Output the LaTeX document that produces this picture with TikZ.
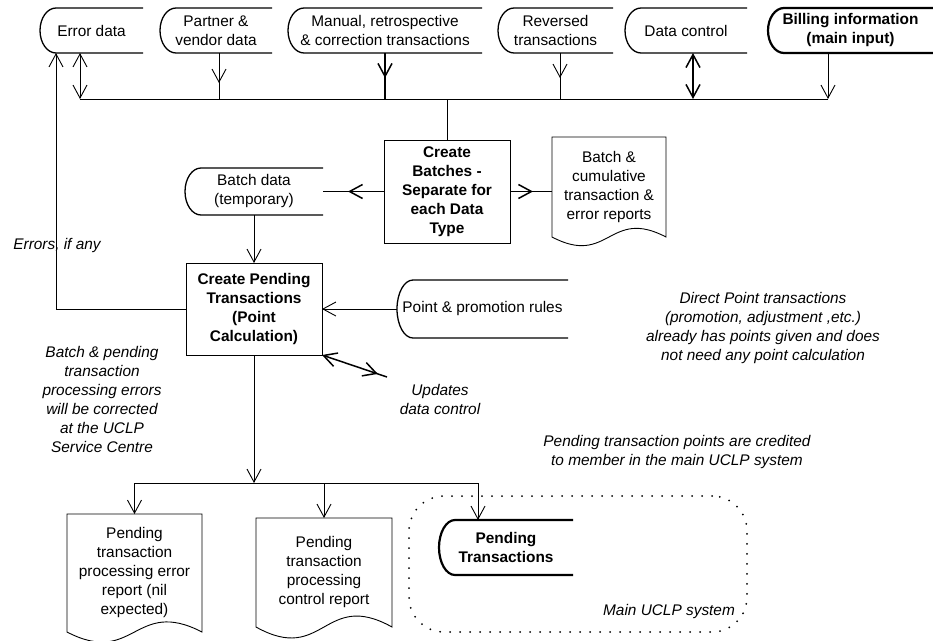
\documentclass[tikz,border=0pt]{standalone}
\usepackage{fontspec}
\setmainfont{Liberation Sans}
\usetikzlibrary{arrows.meta,decorations.markings,calc}
\newcommand\mainfnt{\fontsize{15.4}{19}\selectfont}
\newcommand\sdoutline[2][sdline]{\draw[#1] (#2.north east) -- ([xshift=16pt]#2.north west) .. controls ([xshift=7.16pt]#2.north west) and ($(#2.west)!0.5523!(#2.north west)$) .. (#2.west) .. controls ($(#2.west)!0.5523!(#2.south west)$) and ([xshift=7.16pt]#2.south west) .. ([xshift=16pt]#2.south west) -- (#2.south east);}
\newcommand\docoutline[2]{\draw[docline] (#1.north west) -- (#1.north east) -- (#1.south east) .. controls ([yshift=#2]#1.south) and ([yshift=-#2]#1.south) .. (#1.south west) -- cycle;}
\begin{document}
\begin{tikzpicture}[x=1pt,y=-1pt,
  >={Straight Barb[length=13pt,width=14pt]},
  every node/.style={font=\mainfnt, align=center, inner sep=1pt, outer sep=0pt},
  sdline/.style={line width=1.3pt},
  sdbold/.style={line width=2.2pt},
  sdnode/.style 2 args={minimum width=#1, minimum height=#2},
  procbox/.style={draw, line width=0.9pt, font=\mainfnt\bfseries},
  docline/.style={line width=0.9pt},
  conn/.style={line width=0.9pt},
  connb/.style={line width=1.5pt},
  midarr/.style={postaction={decorate}, decoration={markings, mark=at position #1 with {\arrow{>}}}},
  note/.style={font=\mainfnt\itshape},
]
\useasboundingbox (0,0) rectangle (933,640);

% stored data (top row)
\node[sdnode={103pt}{45pt}] (ed) at (91.5,30.5) {Error data};
\node[sdnode={112pt}{45pt}] (pv) at (216,30.5) {Partner \&\\vendor data};
\node[sdnode={194pt}{45pt}] (mr) at (385,30.5) {Manual, retrospective\\\& correction transactions};
\node[sdnode={115pt}{45pt}] (rt) at (555.5,30.5) {Reversed\\transactions};
\node[sdnode={122pt}{45pt}] (dc) at (686,30.5) {Data control};
\node[sdnode={165pt}{45pt}, font=\mainfnt\bfseries] (bi) at (850.5,30.5) {Billing information\\(main input)};
\sdoutline{ed}\sdoutline{pv}\sdoutline{mr}\sdoutline{rt}\sdoutline{dc}
\sdoutline[sdbold]{bi}

% processes
\node[procbox, minimum width=126pt, minimum height=103pt] (cb) at (447,191.5) {Create\\Batches -\\Separate for\\each Data\\Type};
\node[procbox, minimum width=136pt, minimum height=92pt] (cp) at (254,309) {Create Pending\\Transactions\\(Point\\Calculation)};

% other stored data
\node[sdnode={138pt}{47pt}] (bd) at (254,191.5) {Batch data\\(temporary)};
\node[sdnode={171pt}{58pt}] (pr) at (482.5,309) {Point \& promotion rules};
\sdoutline{bd}\sdoutline{pr}

% documents
\node[minimum width=114pt, minimum height=100pt] (br) at (609,187) {Batch \&\\cumulative\\transaction \&\\error reports};
\node[minimum width=135pt, minimum height=118pt] (r1) at (134.5,573) {Pending\\transaction\\processing error\\report (nil\\expected)};
\node[minimum width=136pt, minimum height=109pt] (r2) at (324,572.5) {Pending\\transaction\\processing\\control report};
\docoutline{br}{30pt}\docoutline{r1}{35pt}\docoutline{r2}{38pt}

% main UCLP system region
\node[draw, line width=2pt, dash pattern=on 0pt off 10pt, line cap=round, rounded corners=35pt, minimum width=338pt, minimum height=136pt] (mu) at (578,564) {};
\node[sdnode={134pt}{55pt}, font=\mainfnt\bfseries] (pt) at (506,547.5) {Pending\\Transactions};
\sdoutline[sdbold]{pt}

% notes
\node[note] (errl) at (57,246) {Errors, if any};
\node[note] (n1) at (102,399.5) {Batch \& pending\\transaction\\processing errors\\will be corrected\\at the UCLP\\Service Centre};
\node[note] (upd) at (440,399.5) {Updates\\data control};
\node[note] (dir) at (763,328.5) {Direct Point transactions\\(promotion, adjustment ,etc.)\\already has points given and does\\not need any point calculation};
\node[note] (cred) at (677,452.5) {Pending transaction points are credited\\to member in the main UCLP system};
\node[note] (mul) at (669,612) {Main UCLP system};

% top bus
\coordinate (b1) at (80,99);
\coordinate (b2) at (219,99);
\coordinate (b3) at (385,99);
\coordinate (b4) at (560,99);
\coordinate (b5) at (693,99);
\coordinate (b6) at (828,99);
\draw[conn] (b1) -- (b6);
\draw[conn,<->] (ed.south -| b1) -- (b1);
\draw[conn,midarr=30pt] (pv.south -| b2) -- (b2);
\draw[connb,midarr=25pt] (mr.south -| b3) -- (b3);
\draw[conn,midarr=25pt] (rt.south -| b4) -- (b4);
\draw[connb,<->] (dc.south -| b5) -- (b5);
\draw[conn,->] (bi.south -| b6) -- (b6);
\draw[conn] (cb.north |- b1) -- (cb.north);

% middle connectors
\draw[connb,midarr=36pt] (cb.west) -- (bd.east);
\draw[connb,midarr=23pt] (cb.east) -- (cb.east -| br.west);
\draw[conn,->] (bd.south) -- (cp.north);
\draw[conn,->] (pr.west) -- (cp.east);
\draw[conn,->] (cp.west) -| ([xshift=16pt]ed.south west);
\coordinate (u) at (387,377);
\draw[connb,<-,midarr=59pt] (cp.south east) -- (u);

% bottom bus
\coordinate (d1) at (134.5,483);
\coordinate (d2) at (324,483);
\coordinate (d3) at (478,483);
\draw[conn] (d1) -- (d3);
\draw[conn,->] (cp.south) -- (cp.south |- d1);
\draw[conn,->] (d1) -- (r1.north);
\draw[conn,->] (d2) -- (r2.north);
\draw[conn,->] (d3) -- (d3 |- pt.north);
\end{tikzpicture}
\end{document}
